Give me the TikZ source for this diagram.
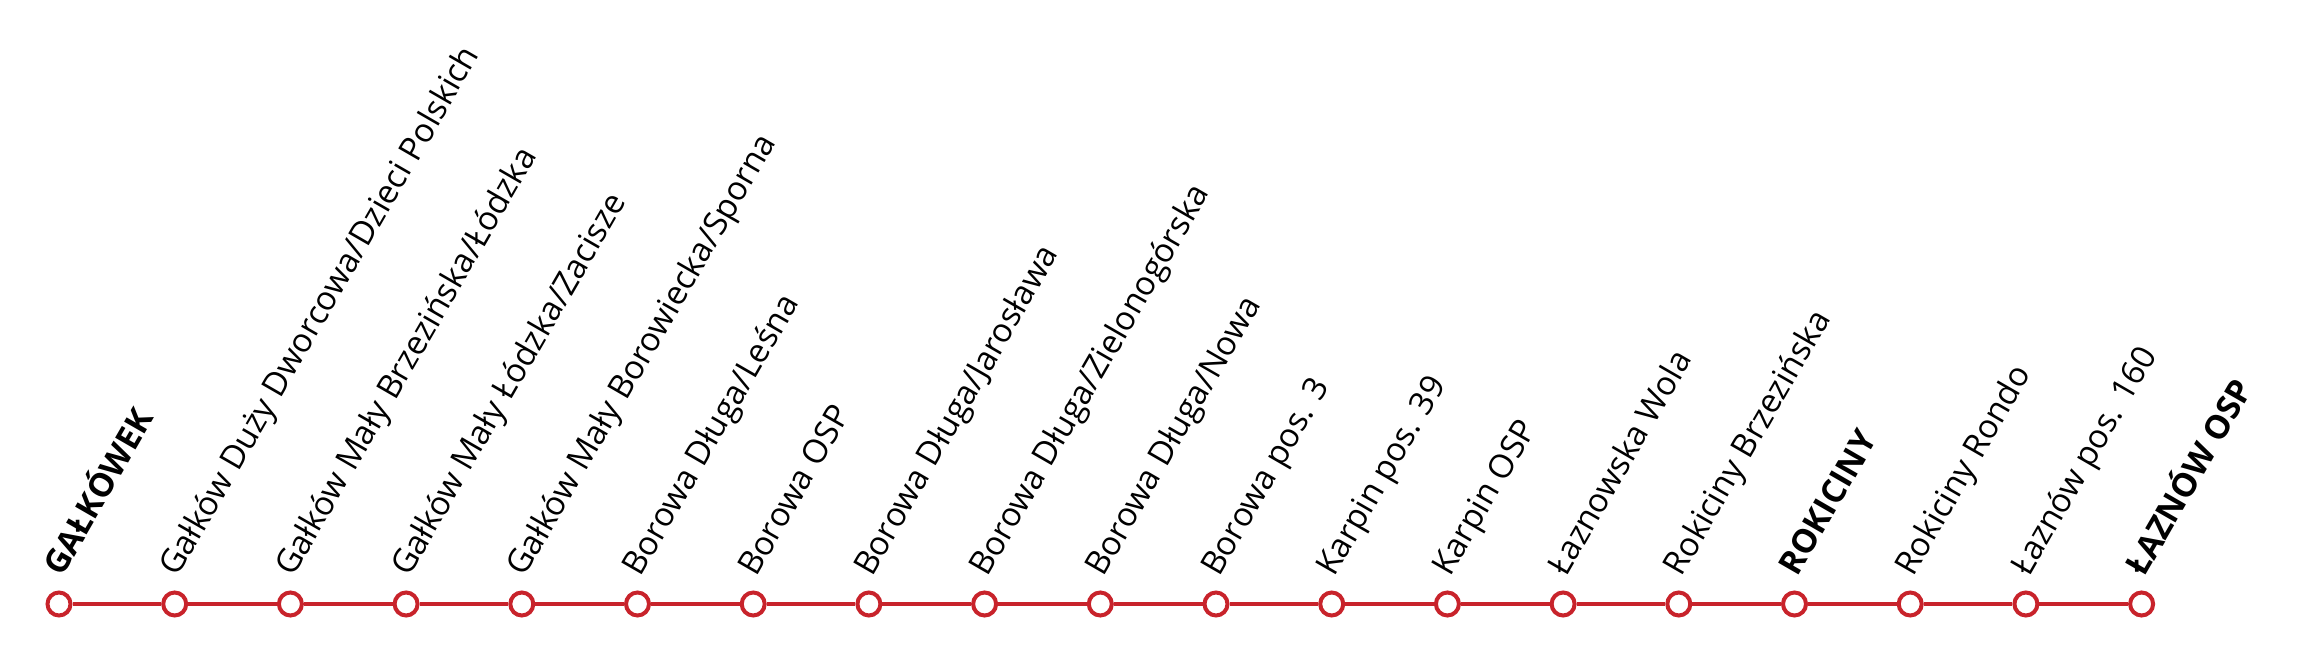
\documentclass[tikz,border=0pt]{standalone}
\usepackage{fontspec}
\setmainfont{Open Sans}
\definecolor{linered}{HTML}{C8232B}
\begin{document}
\begin{tikzpicture}[x=1pt,y=1pt,
  stop/.style={circle,draw=linered,fill=white,line width=4pt,minimum size=23pt,inner sep=0pt},
  lbl/.style={anchor=base west,rotate=60,inner sep=0pt,font=\fontsize{33}{40}\selectfont},
  lblb/.style={lbl,font=\fontsize{33}{40}\selectfont\bfseries},
  route/.style={draw=linered,line width=3.2pt}]
\useasboundingbox (0,0) rectangle (2306,658);
\def\dx{115.7}
\foreach \i in {0,...,18} {
  \node[stop] (s\i) at ({59+\dx*\i},54) {};
}
\draw[route] (s0) -- (s1) -- (s2) -- (s3) -- (s4) -- (s5) -- (s6) -- (s7) -- (s8) -- (s9)
  -- (s10) -- (s11) -- (s12) -- (s13) -- (s14) -- (s15) -- (s16) -- (s17) -- (s18);
\foreach \i/\t/\s in {
  0/{GAŁKÓWEK}/lblb,
  1/{Gałków Duży Dworcowa/Dzieci Polskich}/lbl,
  2/{Gałków Mały Brzezińska/Łódzka}/lbl,
  3/{Gałków Mały Łódzka/Zacisze}/lbl,
  4/{Gałków Mały Borowiecka/Sporna}/lbl,
  5/{Borowa Długa/Leśna}/lbl,
  6/{Borowa OSP}/lbl,
  7/{Borowa Długa/Jarosława}/lbl,
  8/{Borowa Długa/Zielonogórska}/lbl,
  9/{Borowa Długa/Nowa}/lbl,
  10/{Borowa pos. 3}/lbl,
  11/{Karpin pos. 39}/lbl,
  12/{Karpin OSP}/lbl,
  13/{Łaznowska Wola}/lbl,
  14/{Rokiciny Brzezińska}/lbl,
  15/{ROKICINY}/lblb,
  16/{Rokiciny Rondo}/lbl,
  17/{Łaznów pos. 160}/lbl,
  18/{ŁAZNÓW OSP}/lblb} {
  \node[\s] (t\i) at ([xshift=3pt,yshift=26pt]s\i.center) {\t};
}
\end{tikzpicture}
\end{document}
